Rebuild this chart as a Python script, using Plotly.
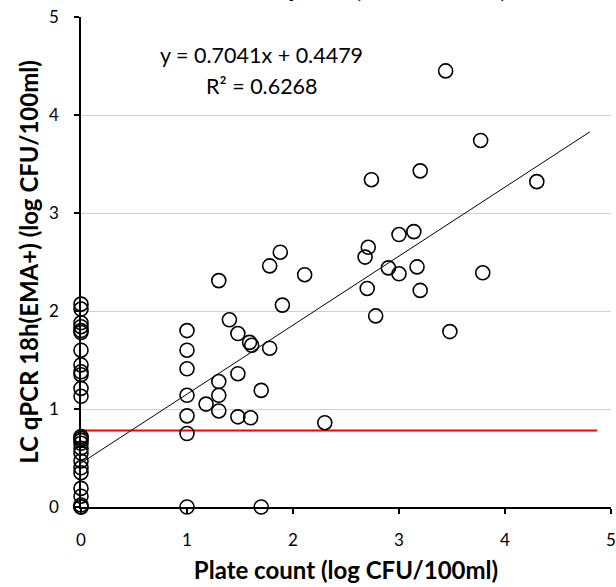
import plotly.graph_objects as go

# Plate count (x) vs LC qPCR 18h (EMA+) (y), both in log CFU/100ml
plate_count = [
    0, 0, 0, 0, 0, 0, 0, 0, 0, 0, 0, 0, 0,
    0, 0, 0, 0, 0, 0, 0, 0, 0, 0, 0, 0, 0,
    1, 1, 1, 1, 1, 1, 1,
    1.30, 1.78, 1.88, 2.11, 1.90, 1.40, 1.48, 1.59, 1.61, 1.78,
    1.48, 1.30, 1.30, 1.18, 1.30, 1.70, 1.48, 1.60, 2.30, 1.70,
    2.74, 3.20, 4.30, 3.00, 3.14, 2.71, 2.68, 2.90, 3.00, 3.17,
    2.70, 3.20, 3.79, 2.78, 3.48, 3.44, 3.77,
]
lc_qpcr = [
    2.07, 2.02, 1.88, 1.84, 1.80, 1.78, 1.60, 1.45, 1.38, 1.35, 1.21, 1.13, 0.72,
    0.70, 0.68, 0.65, 0.60, 0.55, 0.47, 0.40, 0.35, 0.19, 0.11, 0.02, 0.0, 0.0,
    1.80, 1.60, 1.41, 1.14, 0.93, 0.75, 0.0,
    2.31, 2.46, 2.60, 2.37, 2.06, 1.91, 1.77, 1.68, 1.65, 1.62,
    1.36, 1.28, 1.14, 1.05, 0.98, 1.19, 0.92, 0.91, 0.86, 0.0,
    3.34, 3.43, 3.32, 2.78, 2.81, 2.65, 2.55, 2.44, 2.38, 2.45,
    2.23, 2.21, 2.39, 1.95, 1.79, 4.45, 3.74,
]

# Linear fit reported on the chart
slope = 0.7041
intercept = 0.4479
r_squared = 0.6268
fit_x = [0, 4.8]

# Detection limit reference line
limit_y = 0.78
limit_x = [0, 4.87]

axis_ticks = [0, 1, 2, 3, 4, 5]

font_family = "Lato, 'Liberation Sans', sans-serif"

fig = go.Figure()

fig.add_trace(go.Scatter(
    x=limit_x, y=[limit_y, limit_y], mode="lines",
    line=dict(color="#ff0000", width=2), hoverinfo="skip", showlegend=False,
))

fig.add_trace(go.Scatter(
    x=fit_x, y=[slope * v + intercept for v in fit_x], mode="lines",
    line=dict(color="black", width=1), hoverinfo="skip", showlegend=False,
))

fig.add_trace(go.Scatter(
    x=plate_count, y=lc_qpcr, mode="markers",
    marker=dict(symbol="circle-open", size=14, color="black",
                line=dict(color="black", width=1.6)),
    cliponaxis=False, showlegend=False,
))

# Trendline equation and R² label
eq_font = dict(family=font_family, size=21.5, color="black")
fig.add_annotation(
    x=1.707, y=4.61, xref="x", yref="y", xanchor="center", yanchor="middle",
    text=f"y = {slope}x + {intercept}", showarrow=False, font=eq_font,
)
fig.add_annotation(
    x=1.707, y=4.30, xref="x", yref="y", xanchor="center", yanchor="middle",
    text=f"R² = {r_squared}", showarrow=False, font=eq_font,
)

# x tick labels, set a little further below the axis
for v in axis_ticks:
    fig.add_annotation(
        x=v, y=0, xref="x", yref="y", yshift=-32, xanchor="center", yanchor="middle",
        text=str(v), showarrow=False,
        font=dict(family=font_family, size=17, color="black"),
    )

# Chart title sits mostly above the top edge of the page
fig.add_annotation(
    x=0.808, y=1.0235, xref="paper", yref="paper", xanchor="right", yanchor="bottom",
    text="<b>Wastewater treatment plant (CFU/100ml)</b>",
    showarrow=False, font=dict(family=font_family, size=26.5, color="black"),
)

fig.update_xaxes(
    range=[0, 5], tickvals=axis_ticks, ticks="outside", ticklen=5,
    tickcolor="black", tickwidth=1.5, showline=True, linecolor="black",
    linewidth=2, showgrid=False, zeroline=False, showticklabels=False,
    automargin=False,
    title=dict(text="<b>Plate count (log CFU/100ml)</b>", standoff=49,
               font=dict(family=font_family, size=24, color="black")),
)
fig.update_yaxes(
    range=[0, 5], tickvals=axis_ticks, ticks="outside", ticklen=5,
    tickcolor="black", tickwidth=1.5, showline=True, linecolor="black",
    linewidth=1.5, showgrid=True, gridcolor="#cfcfcf", gridwidth=1,
    zeroline=False, ticklabelstandoff=12, automargin=False,
    tickfont=dict(family=font_family, size=17, color="black"),
    title=dict(text="<b>LC qPCR 18h(EMA+) (log CFU/100ml)</b>", standoff=4,
               font=dict(family=font_family, size=24, color="black")),
)

fig.update_layout(
    width=616, height=587,
    margin=dict(l=81, r=5, t=17, b=80),
    paper_bgcolor="white", plot_bgcolor="white",
)

fig.write_html("out.html")
